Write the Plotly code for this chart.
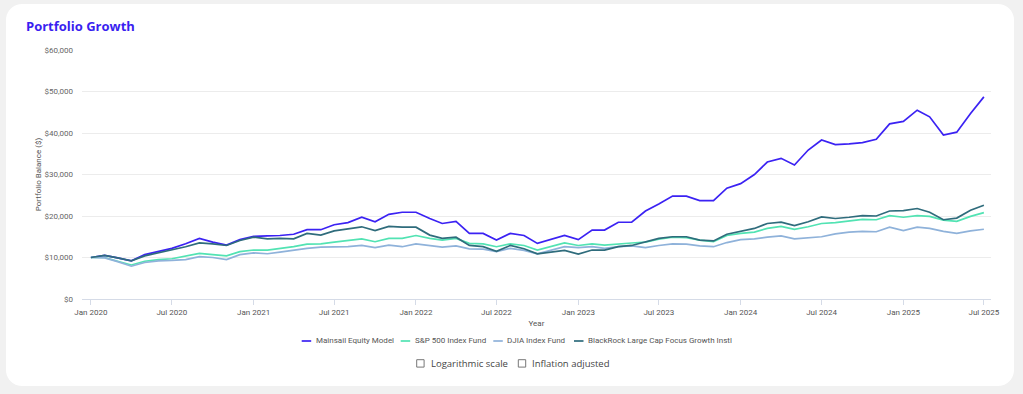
import math
import pandas as pd
import plotly.graph_objects as go

# ---------------- data (monthly, Jan 2020 - Jul 2025) ----------------
months = pd.date_range("2020-01-01", periods=67, freq="MS")

mainsail = [
    10000, 10500, 9900, 9200, 10700, 11500, 12200, 13300, 14600, 13700, 13000, 14300,
    15100, 15200, 15300, 15600, 16700, 16700, 17900, 18400, 19700, 18600, 20400, 20900,
    20900, 19400, 18200, 18700, 15800, 15800, 14200, 15800, 15300, 13400, 14400, 15300,
    14300, 16600, 16600, 18500, 18500, 21200, 22900, 24800, 24800, 23700, 23700, 26700,
    27800, 30000, 33000, 33900, 32300, 35900, 38300, 37200, 37400, 37700, 38500, 42200,
    42800, 45500, 43900, 39500, 40200, 44700, 48700,
]
sp500 = [
    10000, 10000, 9100, 8200, 9100, 9500, 9700, 10300, 11000, 10700, 10400, 11400,
    11800, 11800, 12100, 12600, 13200, 13300, 13700, 14100, 14500, 13800, 14600, 14600,
    15300, 14600, 14200, 14600, 13400, 13300, 12600, 13300, 12900, 11800, 12700, 13500,
    12900, 13300, 13000, 13300, 13500, 13700, 14400, 14900, 14800, 14200, 13800, 15300,
    15800, 16100, 17000, 17500, 16800, 17400, 18200, 18400, 18900, 19200, 19100, 20100,
    19700, 20100, 19900, 19000, 18700, 19900, 20800,
]
djia = [
    10000, 9900, 9000, 7900, 8800, 9200, 9300, 9500, 10200, 10000, 9500, 10700,
    11100, 10900, 11300, 11800, 12200, 12500, 12600, 12600, 12900, 12400, 13000, 12600,
    13300, 12900, 12500, 12800, 12100, 12000, 11400, 12200, 11700, 10900, 11800, 12600,
    12400, 12600, 12200, 12600, 12800, 12400, 12900, 13300, 13200, 12800, 12600, 13600,
    14300, 14500, 14900, 15200, 14500, 14800, 15000, 15700, 16100, 16300, 16200, 17300,
    16500, 17300, 17000, 16300, 15800, 16400, 16800,
]
blackrock = [
    10000, 10500, 9900, 9200, 10400, 11100, 11800, 12600, 13500, 13300, 12900, 14100,
    14900, 14500, 14600, 14500, 15800, 15400, 16400, 16900, 17400, 16500, 17500, 17300,
    17300, 15400, 14600, 14900, 12900, 12600, 11500, 12900, 12100, 10900, 11300, 11700,
    10800, 11800, 11800, 12600, 12900, 13700, 14600, 15000, 15000, 14200, 14000, 15600,
    16300, 17000, 18200, 18500, 17700, 18600, 19800, 19400, 19700, 20100, 20000, 21200,
    21300, 21800, 20900, 19100, 19500, 21400, 22600,
]

series_names = [
    "Mainsail Equity Model",
    "S&P 500 Index Fund",
    "DJIA Index Fund",
    "BlackRock Large Cap Focus Growth Instl",
]
series_values = [mainsail, sp500, djia, blackrock]
series_colors = ["#3b22f3", "#52e3b3", "#8fb2da", "#2f6c7c"]

checkbox_labels = ["Logarithmic scale", "Inflation adjusted"]

# ---------------- layout geometry ----------------
W, H = 1023, 394
ML, MR, MT, MB = 82, 32, 50, 95
PW = W - ML - MR
PH = H - MT - MB


def px(x):
    return (x - ML) / PW


def py(y):
    return (H - MB - y) / PH


def rounded_rect_path(x0, y0, x1, y1, r, n=10):
    pts = []
    corners = [
        (x1 - r, y0 + r, -90, 0),
        (x1 - r, y1 - r, 0, 90),
        (x0 + r, y1 - r, 90, 180),
        (x0 + r, y0 + r, 180, 270),
    ]
    for cx, cy, a0, a1 in corners:
        for i in range(n + 1):
            a = math.radians(a0 + (a1 - a0) * i / n)
            pts.append((cx + r * math.cos(a), cy + r * math.sin(a)))
    return "M " + " L ".join(f"{px(x):.5f},{py(y):.5f}" for x, y in pts) + " Z"


fig = go.Figure()
for name, vals, col in zip(series_names, series_values, series_colors):
    fig.add_trace(
        go.Scatter(
            x=months, y=vals, mode="lines", name=name,
            line=dict(color=col, width=1.7), showlegend=False,
        )
    )

shapes = [
    dict(type="path", xref="paper", yref="paper",
         path=rounded_rect_path(6, 4, 1014, 386, 16),
         fillcolor="white", line=dict(width=0), layer="below"),
]
annotations = []

# manual legend
leg_x = [301.7, 400.7, 493.3, 574.0]
leg_y = 341
for x0, name, col in zip(leg_x, series_names, series_colors):
    shapes.append(dict(type="line", xref="paper", yref="paper",
                       x0=px(x0), x1=px(x0 + 9.5), y0=py(leg_y), y1=py(leg_y),
                       line=dict(color=col, width=1.7)))
    annotations.append(dict(x=px(x0 + 12), y=py(leg_y), xref="paper", yref="paper",
                            text=name, showarrow=False, xanchor="left", yanchor="middle",
                            font=dict(family="Roboto", size=8, color="#555555")))

# checkboxes
cb_x = [416.7, 518.3]
cb_y = 363.4
for x0, lab in zip(cb_x, checkbox_labels):
    shapes.append(dict(type="rect", xref="paper", yref="paper",
                       x0=px(x0), x1=px(x0 + 7.4), y0=py(cb_y - 3.7), y1=py(cb_y + 3.7),
                       line=dict(color="#777777", width=1), fillcolor="white"))
    annotations.append(dict(x=px(x0 + 12), y=py(cb_y), xref="paper", yref="paper",
                            text=lab, showarrow=False, xanchor="left", yanchor="middle",
                            font=dict(family="Open Sans", size=9.5, color="#444444")))

fig.update_layout(
    width=W, height=H,
    margin=dict(l=ML, r=MR, t=MT, b=MB, autoexpand=False),
    paper_bgcolor="#f1f1f1",
    plot_bgcolor="rgba(0,0,0,0)",
    title=dict(text="<b>Portfolio Growth</b>", x=26 / W, xanchor="left",
               y=1 - 26 / H, yanchor="middle",
               font=dict(family="Open Sans", size=13, color="#3a1ff0")),
    shapes=shapes,
    annotations=annotations,
    showlegend=False,
    hovermode="x unified",
)

fig.update_xaxes(
    type="date",
    range=["2019-12-12", "2025-07-17"],
    tick0="2020-01-01", dtick="M6", tickformat="%b %Y",
    showgrid=False, zeroline=False,
    showline=True, linecolor="#d5dbe7", linewidth=1,
    ticks="outside", ticklen=5, tickcolor="#d5dbe7",
    tickfont=dict(family="Roboto", size=8, color="#555555"),
    title=dict(text="Year", standoff=4, font=dict(family="Roboto", size=8, color="#555555")),
)
fig.update_yaxes(
    range=[0, 60000], dtick=10000, tickprefix="$", tickformat=",",
    showgrid=True, gridcolor="#ececec", gridwidth=1, zeroline=False, showline=False,
    ticks="", ticklabelstandoff=8,
    tickfont=dict(family="Roboto", size=8, color="#666666"),
    title=dict(text="Portfolio Balance ($)", standoff=1,
               font=dict(family="Roboto", size=8, color="#555555")),
)

fig.write_html(
    "out.html",
    config={"displayModeBar": False},
    post_script="document.body.style.margin='0';document.body.style.overflow='hidden';",
)
